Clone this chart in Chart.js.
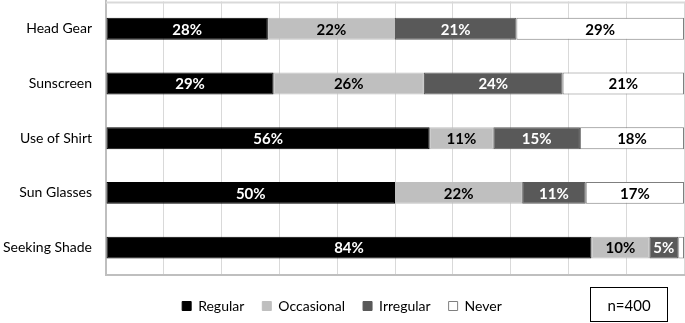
<!DOCTYPE html>
<html>
<head>
<meta charset="utf-8">
<script src="https://cdn.jsdelivr.net/npm/chart.js@4/dist/chart.umd.min.js"></script>
<style>
  html, body { margin: 0; padding: 0; background: #fff; }
  #wrap { position: relative; width: 685px; height: 323px; overflow: hidden; }
  #chart { display: block; margin-top: -21px; }
  #note {
    position: absolute; left: 590px; top: 287px; width: 78px; height: 35px;
    border: 1px solid #000; box-sizing: border-box;
    font: 15px Lato, sans-serif; color: #000;
    display: flex; align-items: center; justify-content: center;
  }
</style>
</head>
<body>
<div id="wrap">
  <canvas id="chart" width="685" height="344"></canvas>
  <div id="note">n=400</div>
</div>
<script>
const categories = ["Head Gear", "Sunscreen", "Use of Shirt", "Sun Glasses", "Seeking Shade"],
  regular = [28, 29, 56, 50, 84],
  occasional = [22, 26, 11, 22, 10],
  irregular = [21, 24, 15, 11, 5],
  never = [29, 21, 18, 17, 1];

const series = [
  { label: "Regular", data: regular, backgroundColor: "#000000", borderColor: "#000000", labelColor: "#fff" },
  { label: "Occasional", data: occasional, backgroundColor: "#bfbfbf", borderColor: "#bfbfbf", labelColor: "#000" },
  { label: "Irregular", data: irregular, backgroundColor: "#595959", borderColor: "#595959", labelColor: "#fff" },
  { label: "Never", data: never, backgroundColor: "#ffffff", borderColor: "#7f7f7f", labelColor: "#000" },
];

// light frame line along the top of the plot
const topLine = {
  id: "topLine",
  beforeDatasetsDraw(chart) {
    const { ctx, chartArea } = chart;
    ctx.save();
    ctx.strokeStyle = "#d9d9d9";
    ctx.lineWidth = 2;
    ctx.beginPath();
    ctx.moveTo(chartArea.left, chartArea.top + 1);
    ctx.lineTo(chartArea.right, chartArea.top + 1);
    ctx.stroke();
    ctx.restore();
  },
};

// labels in the middle of each segment
const barLabels = {
  id: "barLabels",
  afterDatasetsDraw(chart) {
    const ctx = chart.ctx;
    ctx.save();
    ctx.font = "bold 15px Lato, sans-serif";
    ctx.textAlign = "center";
    ctx.textBaseline = "middle";
    chart.data.datasets.forEach((ds, i) => {
      chart.getDatasetMeta(i).data.forEach((bar, j) => {
        const v = ds.data[j];
        if (v < 3) return;
        ctx.fillStyle = ds.labelColor;
        ctx.fillText(v + "%", (bar.x + bar.base) / 2, bar.y + 1);
      });
    });
    ctx.restore();
  },
};

new Chart(document.getElementById("chart"), {
  type: "bar",
  data: {
    labels: categories,
    datasets: series.map((s) => ({
      label: s.label,
      data: s.data,
      backgroundColor: s.backgroundColor,
      borderColor: s.borderColor,
      borderWidth: 1,
      borderSkipped: false,
      labelColor: s.labelColor,
      categoryPercentage: 1,
      barPercentage: 0.4,
    })),
  },
  options: {
    indexAxis: "y",
    responsive: false,
    animation: false,
    layout: { padding: { top: 0, right: 1, bottom: 0, left: 0 } },
    scales: {
      x: {
        stacked: true,
        min: 0,
        max: 100,
        ticks: { display: false, stepSize: 10 },
        grid: { color: "#d9d9d9", drawTicks: false },
        border: { color: "#bfbfbf", width: 2 },
        afterFit(scale) { scale.height = 6; },
      },
      y: {
        stacked: true,
        ticks: { color: "#000", font: { family: "Lato", size: 14 }, padding: 14 },
        grid: { display: false, drawTicks: false },
        border: { color: "#bfbfbf", width: 2 },
        afterFit(scale) { scale.width = 106; },
      },
    },
    plugins: {
      legend: {
        position: "bottom",
        labels: {
          color: "#000",
          font: { family: "Lato", size: 14 },
          boxWidth: 9,
          boxHeight: 9,
          padding: 18,
        },
      },
      tooltip: { enabled: false },
    },
  },
  plugins: [topLine, barLabels],
});
</script>
</body>
</html>
